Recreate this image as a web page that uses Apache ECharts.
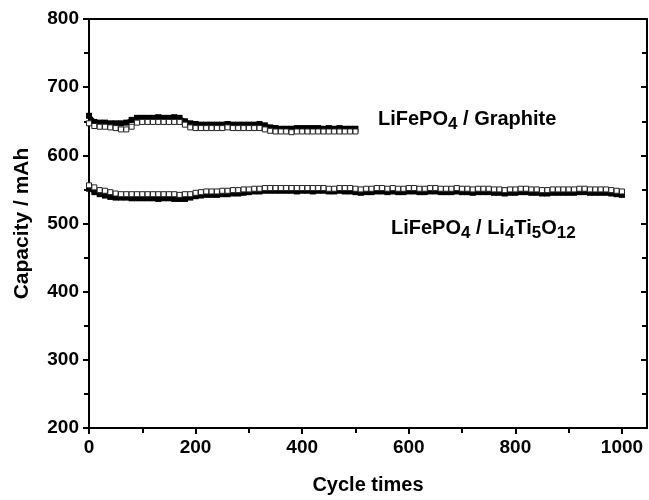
<!DOCTYPE html>
<html>
<head>
<meta charset="utf-8">
<script src="https://cdn.jsdelivr.net/npm/echarts@6/dist/echarts.min.js"></script>
<style>html,body{margin:0;padding:0;background:#fff}#c{width:649px;height:500px}</style>
</head>
<body>
<div id="c"></div>
<script>
// Cycle numbers
var cyclesG = [0,10,20,30,40,50,60,70,80,90,100,110,120,130,140,150,160,170,180,190,200,210,220,230,240,250,260,270,280,290,300,310,320,330,340,350,360,370,380,390,400,410,420,430,440,450,460,470,480,490,500];
var cyclesL = [0,10,20,30,40,50,60,70,80,90,100,110,120,130,140,150,160,170,180,190,200,210,220,230,240,250,260,270,280,290,300,310,320,330,340,350,360,370,380,390,400,410,420,430,440,450,460,470,480,490,500,510,520,530,540,550,560,570,580,590,600,610,620,630,640,650,660,670,680,690,700,710,720,730,740,750,760,770,780,790,800,810,820,830,840,850,860,870,880,890,900,910,920,930,940,950,960,970,980,990,1000];

// LiFePO4 / Graphite : filled and open squares
var graphiteFilled = [658,649,648,648,647,647,647,648,652,655,655,655,655,656,655,655,656,655,650,647,646,645,645,645,645,645,646,645,645,645,645,645,646,644,641,640,639,639,639,640,640,640,640,640,639,640,639,640,639,639,639];
var graphiteOpen   = [647,643,642,642,641,640,638,638,642,648,649,649,649,649,649,649,649,649,645,641,640,640,640,640,640,640,641,640,640,640,640,640,640,638,636,635,635,635,634,635,635,635,635,635,635,635,635,635,635,635,635];

// LiFePO4 / Li4Ti5O12
var ltoFilled = [551,546,543,541,539,538,538,538,537,537,537,537,537,536,537,537,536,536,536,538,540,541,542,542,542,543,543,544,544,545,546,547,547,548,548,548,548,548,548,547,548,548,547,548,548,547,547,548,547,547,546,545,546,546,547,547,546,547,546,546,547,547,546,546,547,547,546,546,546,547,546,546,545,546,546,546,545,545,544,545,545,546,546,545,545,544,544,545,545,545,545,545,546,546,545,545,545,545,544,543,542];
var ltoOpen   = [556,553,549,548,546,544,543,543,543,543,543,543,543,543,543,543,543,542,543,543,545,546,547,547,547,548,548,549,549,550,550,551,551,552,552,552,552,552,552,552,552,552,552,552,552,551,551,552,552,552,551,550,551,551,552,552,551,552,551,551,552,552,551,551,552,552,551,551,551,552,551,551,550,551,551,551,550,550,549,550,550,551,551,550,550,549,549,550,550,550,550,550,551,551,550,550,550,550,549,548,547];

var xTicks = [0,200,400,600,800,1000];
var yTicks = [200,300,400,500,600,700,800];

function pairs(xs, ys){ return xs.map(function(x,i){ return [x, ys[i]]; }); }

var FONT = '"Liberation Sans", Arial, sans-serif';
var chart = echarts.init(document.getElementById('c'), null, {renderer:'canvas'});

var axisLineStyle = {color:'#000', width:2};
var richStyles = {
  m:{fontFamily:FONT, fontWeight:'bold', fontSize:20, fill:'#000', lineHeight:23},
  s:{fontFamily:FONT, fontWeight:'bold', fontSize:17, fill:'#000', lineHeight:23, padding:[11,0,0,0]}
};
chart.setOption({
  animation:false,
  backgroundColor:'#fff',
  grid:{left:89, right:2, top:19, bottom:71, containLabel:false},
  xAxis:[{
    type:'value', min:0, max:1047, interval:200,
    name:'Cycle times', nameLocation:'middle', nameGap:47,
    nameTextStyle:{fontFamily:FONT, fontWeight:'bold', fontSize:20, color:'#000'},
    axisLine:{show:true, onZero:false, lineStyle:axisLineStyle},
    axisTick:{show:true, inside:false, length:6, lineStyle:{color:'#000', width:2}, customValues:xTicks},
    minorTick:{show:true, splitNumber:2, length:5, lineStyle:{color:'#000', width:2}},
    axisLabel:{customValues:xTicks, formatter:function(v){ return String(v); }, fontFamily:FONT, fontWeight:'bold', fontSize:19, color:'#000', margin:10},
    splitLine:{show:false}
  },{
    type:'value', position:'top', min:0, max:1047,
    axisLine:{show:true, onZero:false, lineStyle:axisLineStyle},
    axisTick:{show:false}, axisLabel:{show:false}, splitLine:{show:false}
  }],
  yAxis:[{
    type:'value', min:200, max:800, interval:100,
    name:'Capacity / mAh', nameLocation:'middle', nameGap:56, nameRotate:90,
    nameTextStyle:{fontFamily:FONT, fontWeight:'bold', fontSize:21, color:'#000'},
    axisLine:{show:true, onZero:false, lineStyle:axisLineStyle},
    axisTick:{show:true, inside:false, length:6, lineStyle:{color:'#000', width:2}, customValues:yTicks},
    minorTick:{show:true, splitNumber:2, length:5, lineStyle:{color:'#000', width:2}},
    axisLabel:{customValues:yTicks, formatter:function(v){ return String(v); }, fontFamily:FONT, fontWeight:'bold', fontSize:19, color:'#000', margin:10},
    splitLine:{show:false}
  },{
    type:'value', position:'right', min:200, max:800, interval:100,
    axisLine:{show:true, onZero:false, lineStyle:axisLineStyle},
    axisTick:{show:true, inside:true, length:6, lineStyle:{color:'#000', width:2}},
    minorTick:{show:true, splitNumber:2, length:5, lineStyle:{color:'#000', width:2}},
    axisLabel:{show:false}, splitLine:{show:false}
  }],
  graphic:[{
    type:'text', left:378, top:105,
    style:{ rich:richStyles, text:'{m|LiFePO}{s|4}{m| / Graphite}' }
  },{
    type:'text', left:391, top:214,
    style:{ rich:richStyles, text:'{m|LiFePO}{s|4}{m| / Li}{s|4}{m|Ti}{s|5}{m|O}{s|12}' }
  }],
  series:[
    {type:'line', name:'G filled', data:pairs(cyclesG, graphiteFilled), symbol:'rect', symbolSize:6, showSymbol:true,
     itemStyle:{color:'#000'}, lineStyle:{color:'#000', width:4}, z:2},
    {type:'line', name:'G open', data:pairs(cyclesG, graphiteOpen), symbol:'rect', symbolSize:5, showSymbol:true,
     itemStyle:{color:'#fff', borderColor:'#222', borderWidth:1}, lineStyle:{width:0}, z:3},
    {type:'line', name:'L filled', data:pairs(cyclesL, ltoFilled), symbol:'rect', symbolSize:6, showSymbol:true,
     itemStyle:{color:'#000'}, lineStyle:{color:'#000', width:4}, z:2},
    {type:'line', name:'L open', data:pairs(cyclesL, ltoOpen), symbol:'rect', symbolSize:5, showSymbol:true,
     itemStyle:{color:'#fff', borderColor:'#222', borderWidth:1}, lineStyle:{width:0}, z:3}
  ]
});
</script>
</body>
</html>
